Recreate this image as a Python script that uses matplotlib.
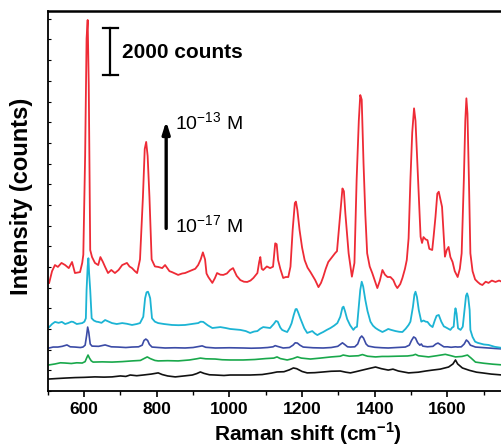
import matplotlib
matplotlib.use("Agg")
import matplotlib.pyplot as plt
from matplotlib.ticker import MultipleLocator, NullFormatter

plt.rcParams['font.family'] = ['Liberation Sans', 'DejaVu Sans']
plt.rcParams['mathtext.fontset'] = 'custom'
plt.rcParams['mathtext.rm'] = 'Liberation Sans'
plt.rcParams['mathtext.bf'] = 'Liberation Sans:bold'

# spectra: Raman shift (cm-1) and intensity (counts)
red_x = [504, 512, 520, 528, 538, 548, 558, 567, 575, 589, 595, 598, 603, 607, 610, 613, 617, 622,
         630, 639, 645, 652, 658, 666, 675, 685, 695, 705, 718, 725, 732, 740, 746, 754, 762, 767,
         771, 775, 780, 786, 795, 804, 815, 823, 835, 842, 859, 870, 878, 890, 898, 906, 914, 921,
         927, 933, 937, 942, 953, 960, 966, 975, 983, 993, 1002, 1010, 1020, 1030, 1040, 1049,
         1058, 1066, 1077, 1082, 1085, 1089, 1093, 1103, 1112, 1120, 1126, 1130, 1134, 1140, 1148,
         1155, 1162, 1168, 1174, 1180, 1183, 1187, 1193, 1200, 1207, 1215, 1223, 1236, 1245, 1252,
         1258, 1265, 1272, 1280, 1291, 1296, 1305, 1311, 1315, 1319, 1328, 1337, 1344, 1350, 1356,
         1360, 1364, 1369, 1374, 1379, 1386, 1393, 1400, 1407, 1414, 1421, 1428, 1435, 1443, 1451,
         1457, 1462, 1470, 1476, 1483, 1488, 1493, 1498, 1503, 1508, 1512, 1519, 1526, 1530, 1534,
         1540, 1545, 1550, 1558, 1562, 1567, 1572, 1576, 1580, 1585, 1593, 1598, 1603, 1608, 1614,
         1620, 1628, 1634, 1639, 1645, 1649, 1652, 1655, 1659, 1663, 1669, 1676, 1683, 1690, 1696,
         1705, 1713, 1722, 1732, 1742, 1751]
red_y = [4600, 5100, 5360, 5280, 5450, 5360, 5230, 5490, 5020, 5060, 5450, 5800, 10000, 15000, 15790,
         13000, 6000, 5700, 5450, 5360, 5700, 5490, 5280, 5020, 5150, 5020, 5150, 5360, 5450, 5300,
         5230, 5100, 5020, 5600, 8250, 10300, 10600, 10000, 8250, 5600, 5300, 5280, 5230, 5360, 5100,
         5060, 4940, 5000, 5020, 5100, 5150, 5200, 5360, 5600, 5900, 5600, 5000, 4850, 4600, 4800,
         5020, 4950, 4940, 5000, 5150, 5230, 4900, 4720, 4650, 4640, 4700, 4810, 5020, 5500, 5700,
         5200, 5150, 5300, 5230, 5290, 6285, 6250, 5570, 5200, 4810, 4850, 4850, 5290, 6850, 8000,
         8060, 7700, 6850, 6100, 5570, 5250, 5060, 4720, 4420, 4600, 4850, 5200, 5490, 5650, 5870,
         5950, 7560, 8620, 8500, 7560, 5860, 4865, 5450, 8980, 11500, 12595, 12400, 9690, 7500, 5860,
         5300, 5020, 4700, 4380, 4700, 5150, 4950, 4850, 4850, 4720, 4500, 4380, 4550, 4810, 5200,
         5575, 6500, 8980, 11000, 12030, 11500, 8980, 6565, 6300, 6550, 6450, 6420, 6050, 6000, 6600,
         7415, 8400, 8480, 8200, 7840, 5715, 6000, 6130, 5700, 5490, 5100, 4850, 5200, 5860, 8980,
         11500, 12455, 11800, 8980, 5860, 5100, 4750, 4640, 4550, 4510, 4650, 4600, 4700, 4640, 4700,
         4640]

cyan_x = [504, 512, 520, 530, 539, 548, 556, 565, 570, 580, 595, 601, 605, 607, 610, 612, 614, 617,
          621, 627, 634, 639, 648, 658, 668, 677, 690, 705, 718, 732, 745, 754, 763, 768, 772, 776,
          779, 782, 787, 795, 804, 820, 842, 860, 878, 895, 914, 921, 928, 940, 953, 965, 975, 990,
          1002, 1015, 1030, 1045, 1057, 1068, 1077, 1085, 1093, 1102, 1112, 1122, 1128, 1133, 1140,
          1145, 1152, 1159, 1166, 1171, 1177, 1182, 1185, 1189, 1195, 1200, 1206, 1214, 1228, 1235,
          1242, 1250, 1258, 1268, 1278, 1288, 1297, 1305, 1311, 1314, 1318, 1324, 1332, 1341, 1346,
          1351, 1356, 1360, 1364, 1368, 1374, 1380, 1388, 1395, 1402, 1410, 1421, 1430, 1437, 1445,
          1457, 1467, 1476, 1485, 1493, 1498, 1505, 1509, 1512, 1516, 1521, 1528, 1534, 1540, 1545,
          1552, 1559, 1565, 1570, 1576, 1583, 1590, 1594, 1602, 1608, 1613, 1617, 1620, 1622, 1625,
          1629, 1636, 1642, 1648, 1651, 1654, 1657, 1661, 1663, 1669, 1676, 1683, 1700, 1713, 1730,
          1751]
cyan_y = [2720, 2850, 2940, 2900, 2940, 2850, 2890, 2950, 2940, 2850, 2890, 2950, 3095, 4300, 5300,
          5650, 5000, 4300, 3095, 3000, 2950, 2940, 2900, 3020, 2950, 2890, 2850, 2890, 2860, 2810,
          2850, 2890, 3160, 3945, 4200, 4225, 4100, 3945, 3095, 2950, 2890, 2850, 2810, 2800, 2810,
          2850, 2890, 2950, 2940, 2800, 2680, 2700, 2720, 2680, 2640, 2620, 2600, 2550, 2470, 2530,
          2550, 2650, 2720, 2700, 2680, 2850, 2980, 2950, 2700, 2600, 2550, 2510, 2700, 2880, 3235,
          3480, 3490, 3350, 3095, 2900, 2670, 2470, 2550, 2450, 2380, 2450, 2510, 2600, 2680, 2780,
          2890, 3160, 3550, 3590, 3400, 3060, 2800, 2600, 2700, 2735, 3590, 4300, 4650, 4450, 3870,
          3400, 2950, 2780, 2680, 2600, 2510, 2580, 2640, 2600, 2550, 2520, 2510, 2650, 2810, 2950,
          3590, 4100, 4225, 4000, 3445, 2950, 3000, 2950, 2940, 2800, 2720, 3000, 3200, 3235, 2950,
          2750, 2720, 2650, 2600, 2700, 2735, 3300, 3520, 3300, 2670, 2600, 2735, 3590, 4050, 4155,
          4000, 3445, 2600, 2300, 2100, 2050, 1980, 1960, 1880, 1830]

blue_x = [504, 515, 528, 540, 553, 562, 575, 590, 597, 603, 607, 610, 613, 617, 622, 640, 658, 675,
          694, 715, 732, 750, 760, 765, 770, 775, 780, 787, 805, 823, 850, 878, 900, 918, 925, 935,
          961, 1000, 1038, 1060, 1085, 1105, 1120, 1126, 1132, 1148, 1165, 1175, 1181, 1187, 1194,
          1203, 1230, 1258, 1280, 1298, 1305, 1311, 1317, 1325, 1333, 1345, 1353, 1359, 1364, 1369,
          1376, 1382, 1400, 1420, 1437, 1460, 1484, 1495, 1501, 1507, 1512, 1518, 1524, 1528, 1532,
          1545, 1560, 1568, 1574, 1580, 1590, 1600, 1610, 1622, 1628, 1638, 1646, 1652, 1657, 1663,
          1677, 1695, 1713, 1730, 1751]
blue_y = [1830, 1870, 1870, 1900, 1960, 1880, 1870, 1850, 1870, 1950, 2350, 2720, 2500, 2000, 1910,
          1900, 1960, 1880, 1870, 1850, 1870, 1880, 1950, 2150, 2210, 2150, 1980, 1870, 1850, 1830,
          1840, 1830, 1850, 1900, 1920, 1860, 1830, 1840, 1830, 1820, 1830, 1850, 1880, 1930, 1900,
          1830, 1850, 1950, 2050, 2040, 1950, 1870, 1840, 1830, 1850, 1900, 1980, 2050, 1980, 1880,
          1870, 1880, 2000, 2250, 2340, 2250, 2000, 1910, 1860, 1840, 1830, 1850, 1870, 1950, 2150,
          2300, 2250, 2050, 1950, 2000, 1910, 1880, 1900, 2000, 2040, 1980, 1880, 1880, 1860, 1880,
          1870, 1880, 2000, 2170, 2100, 1950, 1870, 1850, 1830, 1810, 1790]

green_x = [504, 520, 535, 548, 565, 580, 595, 603, 607, 611, 615, 620, 625, 650, 677, 705, 732, 755,
           765, 774, 782, 795, 804, 830, 859, 890, 910, 920, 935, 961, 980, 1002, 1038, 1070, 1100,
           1122, 1131, 1140, 1159, 1175, 1187, 1198, 1223, 1250, 1280, 1305, 1313, 1330, 1355, 1366,
           1380, 1402, 1420, 1437, 1460, 1490, 1505, 1512, 1520, 1548, 1570, 1594, 1610, 1622, 1640,
           1655, 1665, 1677, 1700, 1725, 1751]
green_y = [1110, 1150, 1200, 1190, 1170, 1200, 1190, 1250, 1400, 1530, 1400, 1280, 1230, 1240, 1230,
           1250, 1280, 1300, 1380, 1450, 1380, 1300, 1280, 1290, 1280, 1320, 1370, 1400, 1370, 1360,
           1330, 1320, 1320, 1340, 1380, 1400, 1450, 1380, 1320, 1380, 1450, 1400, 1360, 1400, 1450,
           1480, 1530, 1480, 1500, 1550, 1480, 1450, 1470, 1470, 1480, 1490, 1520, 1560, 1500, 1450,
           1500, 1560, 1500, 1450, 1470, 1530, 1400, 1230, 1180, 1140, 1110]

black_x = [504, 525, 548, 575, 600, 630, 655, 677, 700, 715, 727, 745, 763, 785, 804, 815, 830, 851,
           875, 898, 910, 920, 930, 945, 961, 985, 1002, 1030, 1057, 1090, 1115, 1131, 1150, 1165,
           1176, 1185, 1200, 1214, 1235, 1258, 1280, 1305, 1320, 1333, 1350, 1366, 1385, 1402, 1418,
           1437, 1450, 1465, 1493, 1520, 1540, 1559, 1580, 1603, 1615, 1622, 1628, 1641, 1660, 1680,
           1696, 1720, 1751]
black_y = [510, 530, 550, 570, 580, 600, 590, 600, 640, 620, 680, 650, 680, 720, 770, 700, 640, 600,
           640, 680, 740, 810, 750, 690, 680, 660, 680, 680, 680, 700, 760, 810, 820, 900, 980, 950,
           830, 770, 780, 810, 840, 850, 800, 770, 830, 890, 960, 1020, 950, 890, 930, 850, 770, 800,
           850, 890, 930, 1020, 1150, 1320, 1150, 980, 880, 800, 770, 720, 680]

x_ticks = [600, 800, 1000, 1200, 1400, 1600]

fig = plt.figure(figsize=(5.02, 4.47), dpi=100)
ax = fig.add_axes([0.095, 0.1253, 0.905, 0.850])

ax.plot(black_x, black_y, color='#111111', lw=1.2)
ax.plot(green_x, green_y, color='#19a84b', lw=1.2)
ax.plot(blue_x, blue_y, color='#3b4ba6', lw=1.2)
ax.plot(cyan_x, cyan_y, color='#1cb4d4', lw=1.3)
ax.plot(red_x, red_y, color='#ee2b36', lw=1.3)

ax.set_xlim(500, 1750)
ax.set_ylim(0, 16170)

ax.set_xticks(x_ticks)
ax.xaxis.set_minor_locator(MultipleLocator(100))
ax.tick_params(axis='x', which='major', direction='out', length=4, width=1.2, pad=4,
               labelsize=12.5)
ax.tick_params(axis='x', which='minor', direction='out', length=3, width=1.0)
for lab in ax.get_xticklabels():
    lab.set_fontweight('bold')

ax.yaxis.set_major_locator(MultipleLocator(880))
ax.yaxis.set_major_formatter(NullFormatter())
ax.tick_params(axis='y', which='major', direction='in', length=2.5, width=0.8)

ax.spines['right'].set_visible(False)
ax.spines['top'].set_linewidth(1.8)
ax.spines['left'].set_linewidth(1.3)
ax.spines['bottom'].set_linewidth(1.3)

# scale bar: 2000 counts
ax.plot([672, 672], [13446, 15446], color='black', lw=1.6)
ax.plot([652, 694], [13446, 13446], color='black', lw=1.6)
ax.plot([652, 694], [15446, 15446], color='black', lw=1.6)
ax.text(705, 14420, '2000 counts', fontsize=15, fontweight='bold', ha='left', va='center')

# concentration arrow
ax.annotate('', xy=(826, 11600), xytext=(826, 6800),
            arrowprops=dict(arrowstyle='-|>,head_width=0.22,head_length=0.7',
                            color='black', lw=2.4))
ax.text(851, 11400, r'10$^{-13}$ M', fontsize=14, ha='left', va='center')
ax.text(851, 7020, r'10$^{-17}$ M', fontsize=14, ha='left', va='center')

fig.text(308 / 502, 1 - 441 / 447, r'Raman shift (cm$^{\mathbf{-1}}$)', fontsize=15,
         fontweight='bold', ha='center', va='baseline')
fig.text(22 / 502, 1 - 196 / 447, 'Intensity (counts)', fontsize=17, fontweight='bold',
         rotation=90, ha='center', va='center')

fig.savefig('out.png', dpi=100)
